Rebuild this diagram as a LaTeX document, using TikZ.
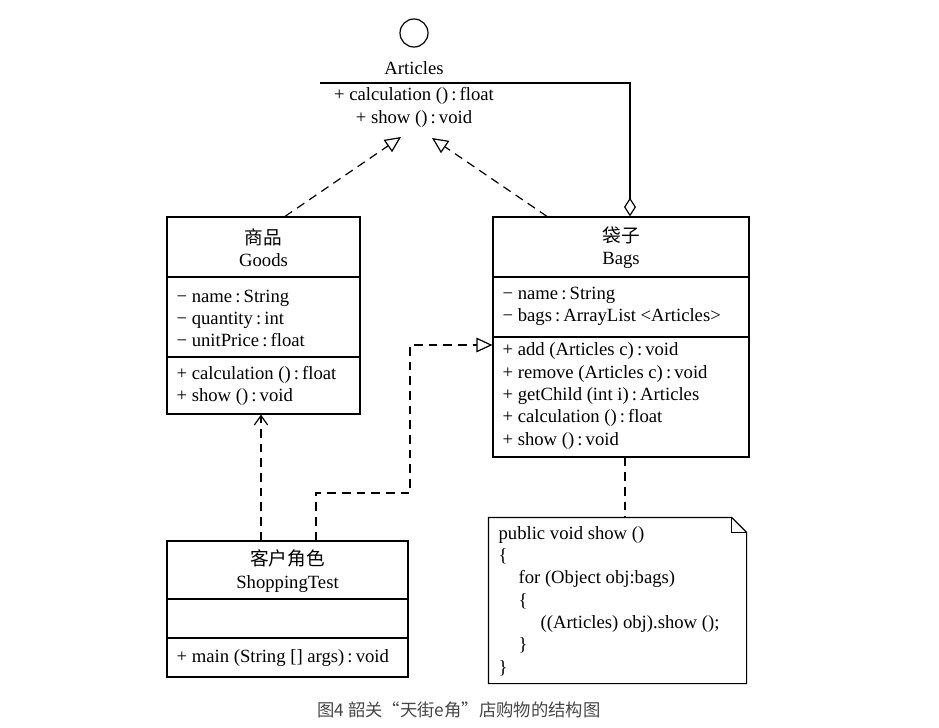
\documentclass[tikz,border=0pt]{standalone}
\usepackage{fontspec}
\setmainfont{Liberation Serif}
\newfontfamily\cjk{Noto Sans CJK SC}
\usetikzlibrary{arrows.meta,calc}
\definecolor{capgray}{RGB}{70,70,70}
\newcommand{\rtype}{\,:\,}
\begin{document}
\begin{tikzpicture}[x=0.75pt, y=-0.75pt, line width=0.9pt,
  font=\fontsize{14}{16.75}\selectfont,
  cls/.style={draw, rectangle, inner sep=0pt},
  txt/.style={inner sep=0pt, align=left, anchor=west},
  hdr/.style={inner sep=0pt, align=center},
  realize/.style={dash pattern=on 6.5pt off 4.5pt, -{Triangle[open, length=12pt, width=11pt]}},
  depend/.style={dash pattern=on 6.5pt off 4.5pt, -{Straight Barb[length=7pt, width=10pt]}},
  aggr/.style={{Diamond[open, length=14pt, width=9pt]}-}]
  \useasboundingbox (0,0) rectangle (939,728);

  % Interface
  \node[draw, circle, minimum size=21pt, inner sep=0pt] (iface) at (414,33) {};
  \node[hdr] (art) at (414,68) {Articles};
  \coordinate (artL) at (320,83);
  \coordinate (artR) at (508,83);
  \draw (artL) -- (artR);
  \node[hdr] (artops) at (414,107.5) {+ calculation ()\rtype float\\+ show ()\rtype void};

  % Classes
  \node[cls, minimum width=144.75pt, minimum height=147.75pt] (goods) at (263.5,315.5) {};
  \draw (goods.west |- 0,277) -- (goods.east |- 0,277);
  \draw (goods.west |- 0,357) -- (goods.east |- 0,357);
  \node[hdr] (goodsname) at (263.5,247.5) {{\cjk 商品}\\Goods};
  \node[txt] (goodsattr) at (176,318.5) {− name\rtype String\\− quantity\rtype int\\− unitPrice\rtype float};
  \node[txt] (goodsops) at (176,386) {+ calculation ()\rtype float\\+ show ()\rtype void};

  \node[cls, minimum width=192pt, minimum height=180pt] (bags) at (621,337) {};
  \draw (bags.west |- 0,277) -- (bags.east |- 0,277);
  \draw (bags.west |- 0,337) -- (bags.east |- 0,337);
  \node[hdr] (bagsname) at (621,247.5) {{\cjk 袋子}\\Bags};
  \node[txt] (bagsattr) at (502,306.5) {− name\rtype String\\− bags\rtype ArrayList <Articles>};
  \node[txt] (bagsops) at (502,396) {+ add (Articles c)\rtype void\\+ remove (Articles c)\rtype void\\+ getChild (int i)\rtype Articles\\+ calculation ()\rtype float\\+ show ()\rtype void};

  \node[cls, minimum width=180.75pt, minimum height=102pt] (shop) at (287.5,609) {};
  \draw (shop.west |- 0,599) -- (shop.east |- 0,599);
  \draw (shop.west |- 0,638) -- (shop.east |- 0,638);
  \node[hdr] (shopname) at (287.5,571) {{\cjk 客户角色}\\ShoppingTest};
  \node[txt] (shopops) at (176,658) {+ main (String [] args)\rtype void};

  % Note
  \node[minimum width=192.75pt, minimum height=123.75pt, inner sep=0pt] (note) at (617.5,600.5) {};
  \draw (note.north west) -- ($(note.north east)+(-15,0)$) -- ($(note.north east)+(0,15)$) -- (note.south east) -- (note.south west) -- cycle;
  \draw ($(note.north east)+(-15,0)$) |- ($(note.north east)+(0,15)$);
  \node[txt] (code) at (498,601) {public void show ()\\\{\\\hspace*{15pt}for (Object obj:bags)\\\hspace*{15pt}\{\\\hspace*{31.5pt}((Articles) obj).show ();\\\hspace*{15pt}\}\\\}};

  % Edges
  \coordinate (bend) at (410,493);
  \draw[realize] (goods.north -| 285,0) -- (401,137);
  \draw[realize] (bags.north -| 547,0) -- (432,138);
  \draw[aggr] (bags.north -| 630,0) |- (artR);
  \draw[depend] (shop.north -| 261,0) -- (goods.south -| 261,0);
  \draw[realize] (shop.north -| 316,0) |- (bend) |- (bags.west |- 0,345);
  \draw[dash pattern=on 6.5pt off 4.5pt] (bags.south -| 625,0) -- (note.north -| 625,0);

  % Caption
  \node[font=\cjk\fontsize{13}{15}\selectfont, text=capgray, inner sep=0pt] (cap) at (459,710) {图4 韶关“天街e角”店购物的结构图};
\end{tikzpicture}
\end{document}
